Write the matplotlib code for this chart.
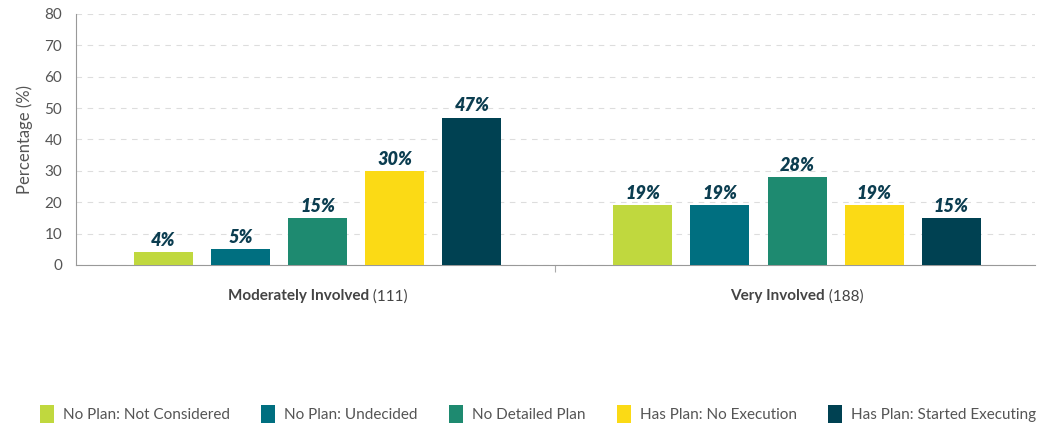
import numpy as np
import matplotlib.pyplot as plt
from matplotlib.patches import Patch
from matplotlib.transforms import offset_copy

# Survey shares by involvement level
groups = ["Moderately Involved", "Very Involved"]
group_n = [111, 188]
series = ["No Plan: Not Considered", "No Plan: Undecided", "No Detailed Plan",
          "Has Plan: No Execution", "Has Plan: Started Executing"]
moderately = [4, 5, 15, 30, 47]
very = [19, 19, 28, 19, 15]
colors = ["#C0D83E", "#006F80", "#1E8A70", "#FBDA15", "#004152"]

values = np.array([moderately, very])

plt.rcParams['font.family'] = ['Lato', 'DejaVu Sans']
text_gray = "#555555"

fig = plt.figure(figsize=(10.39, 4.29), dpi=100)
ax = fig.add_axes([0.0731, 0.3823, 0.9229, 0.5851])

x = np.arange(len(groups))
width = 0.123
step = 0.161
for i, name in enumerate(series):
    pos = x + (i - 2) * step + 0.004
    bars = ax.bar(pos, values[:, i], width=width, color=colors[i], zorder=3)
    for b, v in zip(bars, values[:, i]):
        ax.text(b.get_x() + b.get_width() / 2, v + 1.0, f"{v}%", ha='center', va='bottom',
                fontsize=13, fontweight='heavy', style='italic', color="#0B3D50", zorder=4)

ax.set_xlim(-0.5, 1.5)
ax.set_ylim(0, 80)
ax.set_yticks(range(0, 81, 10))
ax.yaxis.grid(True, linestyle=(0, (5, 5)), color="#DDDDDD", linewidth=0.8, zorder=0)
ax.tick_params(axis='y', length=0, labelsize=11, labelcolor=text_gray, pad=10)
ax.set_ylabel("Percentage (%)", fontsize=12, color=text_gray, labelpad=8)

ax.set_xticks([0.5])
ax.set_xticklabels([])
ax.tick_params(axis='x', length=5, color="#AAAAAA", width=0.8)

for s in ['top', 'right']:
    ax.spines[s].set_visible(False)
ax.spines['left'].set_color("#999999")
ax.spines['bottom'].set_color("#999999")

# Group labels: bold name followed by a plain count
renderer = fig.canvas.get_renderer()
for xi, name, n in zip(x, groups, group_n):
    t1 = ax.text(xi, 0, name, transform=ax.get_xaxis_transform(), fontsize=11,
                 fontweight='bold', color="#444444", ha='left', va='top')
    t2 = ax.text(xi, 0, f" ({n})", transform=ax.get_xaxis_transform(), fontsize=11,
                 color="#444444", ha='left', va='top')
    w1 = t1.get_window_extent(renderer).width
    w2 = t2.get_window_extent(renderer).width
    total = w1 + w2
    base = ax.get_xaxis_transform()
    t1.set_transform(offset_copy(base, fig=fig, x=-total / 2 + 2, y=-24, units='dots'))
    t2.set_transform(offset_copy(base, fig=fig, x=-total / 2 + 2 + w1, y=-24, units='dots'))

handles = [Patch(facecolor=c, label=s) for c, s in zip(colors, series)]
leg = fig.legend(handles=handles, loc='center', bbox_to_anchor=(0.518, 0.035), ncol=5,
                 frameon=False, fontsize=11, handlelength=0.9, handleheight=1.35,
                 handletextpad=0.6, columnspacing=2.05)
for t in leg.get_texts():
    t.set_color(text_gray)

fig.savefig("out.png", dpi=100)
